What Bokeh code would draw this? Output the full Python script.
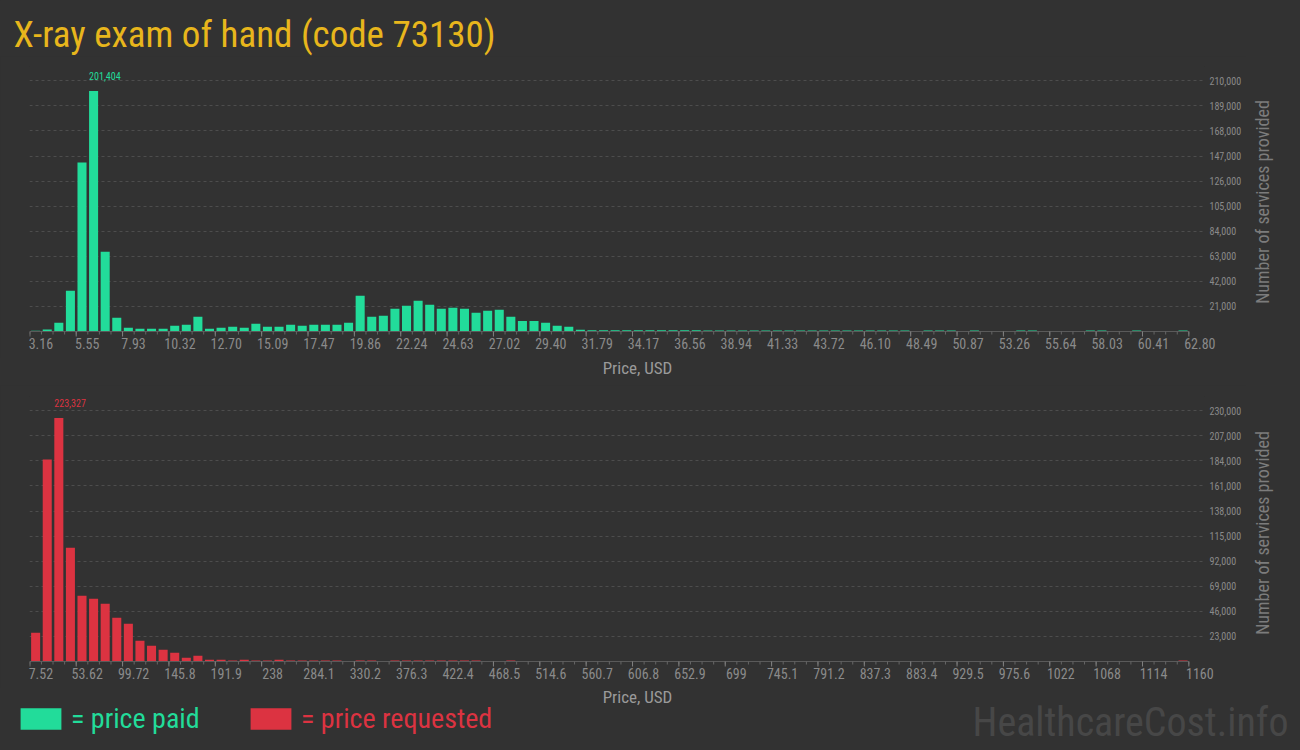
import math
import numpy as np
from bokeh.plotting import figure
from bokeh.layouts import column, row
from bokeh.models import (ColumnDataSource, Range1d, LinearAxis, FixedTicker, Legend, LegendItem,
                          Label, NumeralTickFormatter, GlobalInlineStyleSheet)
from bokeh.core.properties import value
from bokeh.embed import file_html
from bokeh.resources import INLINE

# ---------------- data ----------------
paid_start = 3.16
paid_bin_width = 0.5964
paid_counts = [
    560, 1700, 7300, 34100, 141500, 201404, 66800, 11500, 3100, 2200,
    2200, 2200, 4750, 5600, 12300, 2200, 3100, 3900, 3100, 6400,
    3900, 3900, 5600, 4750, 5600, 5600, 5600, 7300, 29900, 12300,
    13100, 19000, 21500, 25700, 22400, 19000, 19900, 19000, 15700, 17300,
    18200, 12300, 8900, 8900, 7300, 4750, 3900, 1400, 1000, 1000,
    1000, 1000, 950, 950, 950, 950, 950, 950, 900, 900,
    900, 900, 900, 900, 900, 900, 900, 900, 900, 900,
    900, 900, 900, 900, 900, 900, 0, 900, 900, 900,
    0, 900, 0, 0, 0, 900, 900, 0, 0, 0,
    0, 900, 900, 0, 0, 900, 0, 0, 0, 900,
]
paid_tick_labels = ["3.16", "5.55", "7.93", "10.32", "12.70", "15.09", "17.47", "19.86", "22.24",
                    "24.63", "27.02", "29.40", "31.79", "34.17", "36.56", "38.94", "41.33", "43.72",
                    "46.10", "48.49", "50.87", "53.26", "55.64", "58.03", "60.41", "62.80"]
paid_y_ticks = [21000, 42000, 63000, 84000, 105000, 126000, 147000, 168000, 189000, 210000]

requested_start = 7.52
requested_bin_width = 11.525
requested_counts = [
    26300, 185300, 223327, 104400, 60300, 57600, 53000, 40100, 34600, 19000,
    14400, 10700, 8000, 3400, 5200, 1600, 1600, 1000, 1600, 1000,
    1000, 1700, 1000, 1000, 1000, 1000, 1000, 0, 1000, 1000,
    0, 1000, 1000, 1000, 1000, 1000, 1000, 1000, 1000, 0,
    0, 1000, 0, 0, 0, 0, 0, 0, 0, 0,
    0, 0, 0, 0, 0, 0, 0, 0, 0, 0,
    0, 0, 0, 0, 0, 0, 0, 0, 0, 0,
    0, 0, 0, 0, 0, 0, 0, 0, 0, 0,
    0, 0, 0, 0, 0, 0, 0, 0, 0, 0,
    0, 0, 0, 0, 0, 0, 0, 0, 0, 1000,
]
requested_tick_labels = ["7.52", "53.62", "99.72", "145.8", "191.9", "238", "284.1", "330.2", "376.3",
                         "422.4", "468.5", "514.6", "560.7", "606.8", "652.9", "699", "745.1", "791.2",
                         "837.3", "883.4", "929.5", "975.6", "1022", "1068", "1114", "1160"]
requested_y_ticks = [23000, 46000, 69000, 92000, 115000, 138000, 161000, 184000, 207000, 230000]

title_text = "X-ray exam of hand (code 73130)"
x_title = "Price, USD"
y_title = "Number of services provided"
legend_labels = ["= price paid", "= price requested"]
watermark = "HealthcareCost.info"

# ---------------- style ----------------
BG = "#323232"
GREEN = "#22dc9a"
RED = "#dc3341"
GOLD = "#e8b61c"
FONT = "'Roboto Condensed', 'Liberation Sans Narrow', 'DejaVu Sans Condensed', sans-serif"
TICK_GREY = "#8a8a8a"
W = 1300
CHART_W = 1245         # chart figure width; a narrow strip to its right holds the y title
YSTRIP_W = W - CHART_W
FRAME_LEFT = 29
FRAME_RIGHT = 1204
FRAME_W = FRAME_RIGHT - FRAME_LEFT
PLOT_PX = 265          # pixels from zero line to top of the frame
PAD_PX = 6             # frame extends this far below the zero line (room for tick marks)
LABEL_SHIFT_PX = 11    # tick labels start just left of their tick


def style_fig(f):
    f.background_fill_color = BG
    f.border_fill_color = BG
    f.outline_line_color = None
    f.frame_align = False


def make_chart(counts, start, bin_w, tick_labels, y_ticks, y_end, color, border_top, border_bottom):
    n = len(counts)
    edges = start + bin_w * np.arange(n + 1)
    centers = (edges[:-1] + edges[1:]) / 2
    x_start = start - 0.03 * bin_w
    x_end = start + (FRAME_W / 11.59 - 0.03) * bin_w
    ypp = y_end / PLOT_PX
    height = border_top + PLOT_PX + PAD_PX + border_bottom
    p = figure(width=CHART_W, height=height,
               x_range=Range1d(x_start, x_end), y_range=Range1d(-PAD_PX * ypp, y_end),
               x_axis_location=None, y_axis_location="right",
               output_backend="svg", toolbar_location=None,
               min_border_left=FRAME_LEFT, min_border_right=CHART_W - FRAME_RIGHT,
               min_border_top=border_top, min_border_bottom=border_bottom)
    style_fig(p)
    p.xgrid.visible = False

    src = ColumnDataSource(dict(x=centers, top=counts))
    p.vbar(x="x", top="top", width=0.78 * bin_w, source=src, fill_color=color, line_color=None)

    i = int(np.argmax(counts))
    p.text(x=[edges[i] + 0.11 * bin_w], y=[counts[i]], text=[f"{counts[i]:,}"],
           text_align="left", text_baseline="bottom", y_offset=-11,
           text_font=value(FONT), text_font_size="10px", text_color=color)

    major = [float(v) for v in edges[::4]]
    minor = [float(v) for v in edges]

    # x axis line and tick marks (frame extends a little below zero to hold them)
    p.segment(x0=[minor[0]], y0=[0], x1=[minor[-1]], y1=[0], line_color="#5a5a5a", line_width=1)
    p.segment(x0=minor, y0=[0] * len(minor), x1=minor, y1=[-3 * ypp] * len(minor),
              line_color="#666666", line_width=1)
    p.segment(x0=major, y0=[0] * len(major), x1=major, y1=[-5 * ypp] * len(major),
              line_color="#808080", line_width=1)

    # axis carrying the tick labels (left aligned at their ticks)
    d = LABEL_SHIFT_PX * (x_end - x_start) / FRAME_W
    p.extra_x_ranges = {"lbl": Range1d(x_start - d, x_end - d)}
    ax_b = LinearAxis(x_range_name="lbl", ticker=FixedTicker(ticks=major, minor_ticks=[]),
                      major_label_overrides={v: s for v, s in zip(major, tick_labels)},
                      axis_line_color=None, major_tick_line_color=None, minor_tick_line_color=None,
                      major_tick_in=0, major_tick_out=0, minor_tick_in=0, minor_tick_out=0,
                      major_label_standoff=0,
                      major_label_text_font=FONT, major_label_text_font_size="14px",
                      major_label_text_color=TICK_GREY)
    p.add_layout(ax_b, "below")

    yax = p.yaxis[0]
    yax.ticker = FixedTicker(ticks=y_ticks)
    yax.formatter = NumeralTickFormatter(format="0,0")
    yax.axis_line_color = None
    yax.major_tick_line_color = None
    yax.minor_tick_line_color = None
    yax.major_tick_in = 0
    yax.major_tick_out = 0
    yax.minor_tick_in = 0
    yax.minor_tick_out = 0
    yax.major_label_standoff = 5
    yax.major_label_text_font = FONT
    yax.major_label_text_font_size = "10px"
    yax.major_label_text_color = TICK_GREY

    p.ygrid.grid_line_color = "#4d4d4d"
    p.ygrid.grid_line_dash = "3 3"
    return p


def make_strip(width, height):
    s = figure(width=width, height=height, x_range=Range1d(0, width), y_range=Range1d(0, height),
               x_axis_location=None, y_axis_location=None,
               output_backend="svg", toolbar_location=None, min_border=0)
    style_fig(s)
    s.xgrid.visible = False
    s.ygrid.visible = False
    return s


def y_title_strip(height, y_center):
    s = make_strip(YSTRIP_W, height)
    s.add_layout(Label(x=17, y=y_center, text=y_title, angle=math.pi / 2,
                       text_align="center", text_baseline="middle",
                       text_font=FONT, text_font_size="18px", text_color="#7c7c7c"))
    return s


def x_title_label(y):
    return Label(x=637, y=y, text=x_title, text_align="center", text_baseline="alphabetic",
                 text_font=FONT, text_font_size="17px", text_color="#9a9a9a")


# title strip
TITLE_H = 56
t0 = make_strip(W, TITLE_H)
t0.add_layout(Label(x=13, y=22, text=title_text, text_align="left", text_baseline="alphabetic",
                    text_font=FONT, text_font_size="37px", text_color=GOLD))

# top chart (price paid)
p1 = make_chart(paid_counts, paid_start, paid_bin_width, paid_tick_labels, paid_y_ticks,
                222000, GREEN, 66 - TITLE_H, 20)
ys1 = y_title_strip(p1.height, TITLE_H + p1.height - 201.5)

s1 = make_strip(W, 28)
s1.add_layout(x_title_label(18))

# bottom chart (price requested)
P2_TOP = TITLE_H + p1.height + s1.height
p2 = make_chart(requested_counts, requested_start, requested_bin_width, requested_tick_labels,
                requested_y_ticks, 243100, RED, 11, 20)
ys2 = y_title_strip(p2.height, P2_TOP + p2.height - 532.5)

# legend + watermark strip
s2 = make_strip(W, 750 - P2_TOP - p2.height)
s2.add_layout(x_title_label(54))
nan = float("nan")
r_paid = s2.vbar(x=[nan], top=[nan], width=1, fill_color=GREEN, line_color=None)
r_req = s2.vbar(x=[nan], top=[nan], width=1, fill_color=RED, line_color=None)
for r, lab, col, vx in [(r_paid, legend_labels[0], GREEN, 15), (r_req, legend_labels[1], RED, 245)]:
    lg = Legend(items=[LegendItem(label=lab, renderers=[r])], location=(vx, 15),
                orientation="horizontal", glyph_width=51, glyph_height=27, label_standoff=5,
                label_text_font=FONT, label_text_font_size="28px", label_text_color=col,
                background_fill_alpha=0, border_line_color=None, padding=0, margin=0, spacing=0)
    s2.add_layout(lg)
s2.add_layout(Label(x=1288, y=28, text=watermark, text_align="right", text_baseline="alphabetic",
                    text_font=FONT, text_font_size="40px", text_color="#474747"))

layout = column(t0, row(p1, ys1, spacing=0), s1, row(p2, ys2, spacing=0), s2, spacing=0,
                stylesheets=[GlobalInlineStyleSheet(css="html, body { background: #323232; }")])

open("out.html", "w").write(file_html(layout, INLINE))
